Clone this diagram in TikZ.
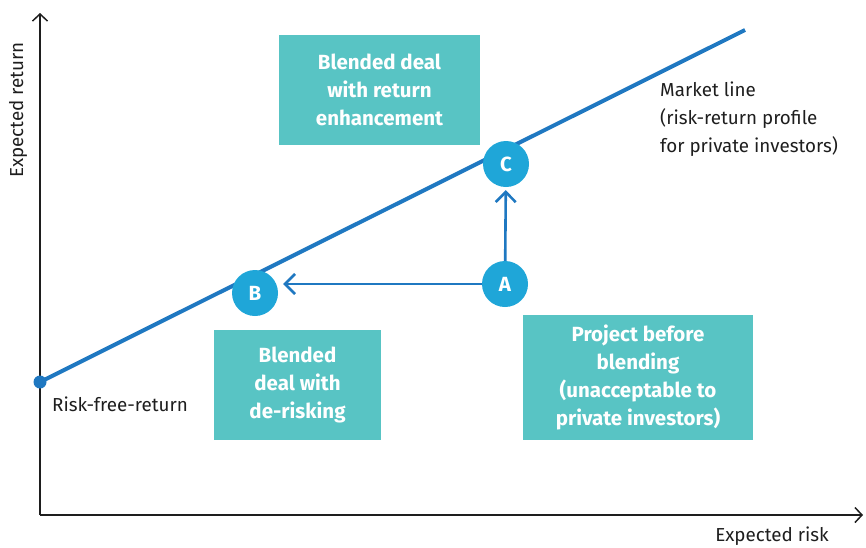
\documentclass[tikz,border=0pt]{standalone}
\usepackage{fontspec}
\setmainfont{Fira Sans}
\usetikzlibrary{arrows.meta, positioning}
\definecolor{cline}{HTML}{1F78C1}
\definecolor{ccirc}{HTML}{1FA6D8}
\definecolor{cteal}{HTML}{58C4C4}
\definecolor{ctext}{HTML}{1E1E1E}
\tikzset{
  every picture/.style={x=1pt, y=-1pt},
  axis/.style={-{Straight Barb[length=7pt, width=15pt, line width=1.5pt]}, draw=ctext, line width=1.5pt},
  market/.style={draw=cline, line width=4pt},
  movearrow/.style={-{Straight Barb[length=10pt, width=20pt, line width=2.6pt]}, draw=cline, line width=2.6pt},
  dealbox/.style={fill=cteal, text=white, align=center, inner sep=0pt, font=\fontsize{20.5}{28}\selectfont\bfseries},
  dealpoint/.style={circle, fill=ccirc, text=white, minimum size=46pt, inner sep=0pt, font=\fontsize{20.5}{22}\selectfont\bfseries},
  note/.style={text=ctext, font=\fontsize{18.8}{28}\selectfont, inner sep=0pt},
}
\begin{document}
\begin{tikzpicture}
  \useasboundingbox (0,0) rectangle (866,547);
  % axes
  \coordinate (origin) at (40,515);
  \coordinate (ytop) at (40,13);
  \coordinate (xend) at (863,515);
  \draw[axis] (origin) -- (ytop);
  \draw[axis] (origin) -- (xend);
  \node[note, rotate=90] (ylab) at (18,110) {Expected return};
  \node[note] (xlab) at (772,536) {Expected risk};
  % market line
  \coordinate (rf) at (40,382);
  \coordinate (mend) at (745,30);
  \draw[market] (rf) -- (mend);
  \fill[cline] (rf) circle (6.5);
  \node[note, anchor=west] (rflab) at (52,404) {Risk-free-return};
  \node[note, anchor=west, align=left] (mlab) at (660,119) {Market line\\(risk-return profile\\for private investors)};
  % boxes
  \node[dealbox, minimum width=201pt, minimum height=110pt] (enh) at (379.5,90) {Blended deal\\with return\\enhancement};
  \node[dealbox, minimum width=167pt, minimum height=110pt] (derisk) at (297.5,385) {Blended\\deal with\\de-risking};
  \node[dealbox, minimum width=230pt, minimum height=125pt] (proj) at (638,377.5) {Project before\\blending\\(unacceptable to\\private investors)};
  % points
  \node[dealpoint] (B) at (255,293) {B};
  \node[dealpoint] (A) at (505,284) {A};
  \node[dealpoint] (C) at (506,164) {C};
  \draw[movearrow, shorten >=5pt] (A) -- (B.east |- A);
  \draw[movearrow, shorten >=3pt] (A) -- (C);
\end{tikzpicture}
\end{document}
